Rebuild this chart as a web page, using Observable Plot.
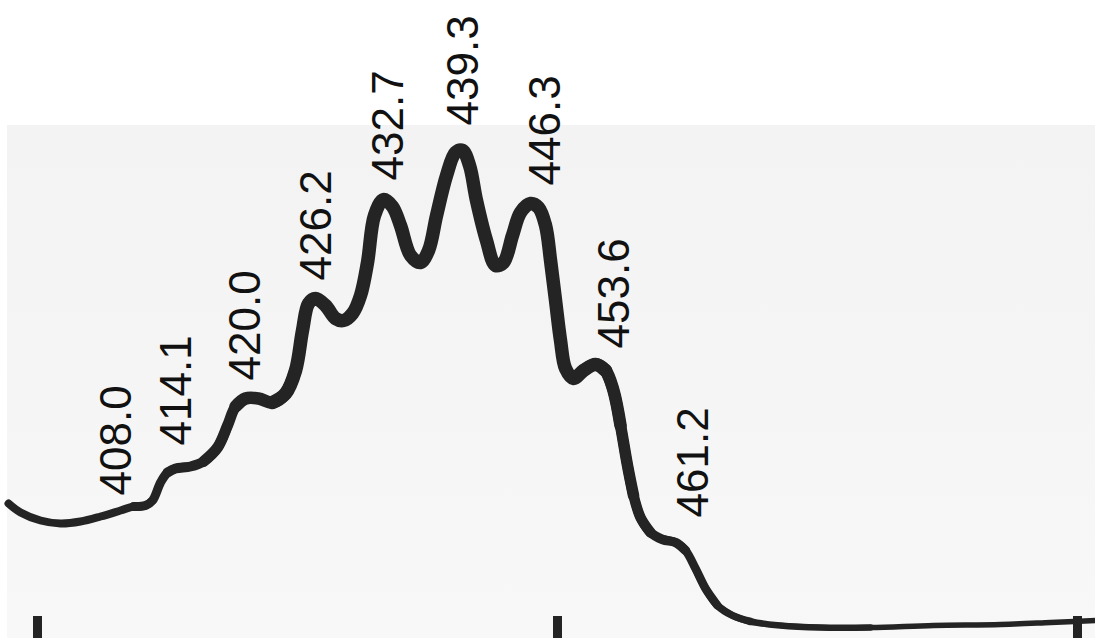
<!DOCTYPE html>
<html>
<head>
<meta charset="utf-8">
<script src="https://cdn.jsdelivr.net/npm/d3@7"></script>
<script src="https://cdn.jsdelivr.net/npm/@observablehq/plot@0.6"></script>
<style>
  html, body { margin: 0; padding: 0; background: #ffffff; }
  #wrap { position: relative; width: 1095px; height: 638px; overflow: hidden; background: #ffffff; }
  #paper { position: absolute; left: 7px; top: 125px; right: 0; bottom: 0;
           background: linear-gradient(to bottom, #f3f3f3 0%, #f5f5f5 50%, #f8f8f8 100%); }
  #chart { position: absolute; left: 0; top: 0; }
  #chart svg { background: transparent; display: block; }
  #chart path { filter: blur(0.6px); }
</style>
</head>
<body>
<div id="wrap"><div id="paper"></div><div id="chart"></div></div>
<script>
// Spectrum trace: wavelength (nm) and relative intensity (arbitrary units)
const wavelength = [
  397.21, 398.37, 400.29, 402.21, 404.13, 406.06, 407.98, 409.23, 410.38, 411.06,
  411.83, 412.50, 413.27, 414.71, 415.96, 417.31, 418.27, 419.04, 420.00, 421.25,
  422.60, 423.85, 424.81, 425.48, 426.06, 426.73, 427.69, 428.65, 429.42, 430.29,
  431.06, 431.73, 432.40, 433.27, 434.13, 434.90, 435.87, 436.83, 437.60, 438.37,
  439.33, 440.19, 440.87, 441.54, 442.21, 443.17, 444.04, 444.81, 445.67, 446.44,
  447.40, 448.17, 448.85, 449.33, 449.81, 450.29, 450.77, 451.54, 452.50, 453.65,
  454.62, 455.38, 456.06, 456.73, 457.31, 457.98, 458.94, 460.10, 461.35, 462.31,
  463.27, 464.23, 465.38, 466.83, 468.56, 471.44, 475.29, 480.10, 486.15, 492.60,
  497.40, 501.73
];
const intensity = [
  25.4, 23.6, 22.0, 21.4, 21.8, 22.8, 24.0, 24.8, 25.0, 26.0,
  29.6, 31.6, 32.4, 32.8, 33.8, 36.6, 41.0, 44.8, 46.4, 46.4,
  45.6, 47.4, 52.0, 60.0, 65.4, 66.4, 65.0, 62.4, 62.0, 63.4,
  67.0, 73.6, 83.0, 86.2, 84.8, 81.0, 75.0, 73.6, 76.0, 83.0,
  91.0, 95.6, 96.0, 93.0, 86.0, 78.0, 73.0, 73.6, 79.0, 83.6,
  85.4, 84.6, 81.0, 74.0, 66.0, 58.0, 52.4, 50.4, 52.0, 53.2,
  52.0, 48.0, 41.0, 33.0, 27.0, 22.6, 19.6, 18.2, 17.6, 16.0,
  12.4, 8.4, 5.0, 3.0, 1.8, 1.0, 0.6, 0.6, 1.0, 1.2,
  1.6, 2.0
];

// Peak annotations (text) and where they sit on the chart (nm, intensity)
const peakLabels = ["408.0", "414.1", "420.0", "426.2", "432.7", "439.3", "446.3", "453.6", "461.2"];
const labelWavelength = [407.60, 413.37, 420.00, 426.83, 433.75, 440.96, 448.85, 455.48, 463.08];
const labelIntensity = [27.0, 37.0, 50.0, 70.0, 90.0, 101.0, 89.0, 56.4, 22.6];

// Scale tick marks along the bottom edge (nm)
const tickWavelengths = [400, 450, 500];

const trace = wavelength.map((w, i) => ({w, v: intensity[i]}));
const labels = peakLabels.map((t, i) => ({t, w: labelWavelength[i], v: labelIntensity[i]}));

// The pen trace is thinner on the flanks and heavier across the peaks:
// draw it in overlapping stretches whose widths change gradually.
const breaks = [-Infinity, 410.38, 413.27, 417.31, 420.00, 423.85, 453.65, 455.38, 456.73, 457.98, 461.35, 464.23, 466.83, 475.29, Infinity];
const widths = [8, 9, 10, 11, 12.5, 13.5, 12.5, 11.5, 10.5, 9.5, 8.5, 7.5, 6.5, 5.5];
const ink = "#242424";

function stretch(lo, hi) {
  // include one neighbouring point on each side so the spline shape matches
  const idx = trace.map((d, i) => i).filter(i => trace[i].w >= lo && trace[i].w <= hi);
  const a = Math.max(0, idx[0] - 1), b = Math.min(trace.length - 1, idx[idx.length - 1] + 1);
  return {pts: trace.slice(a, b + 1), lo, hi};
}

const chart = Plot.plot({
  width: 1095,
  height: 638,
  marginTop: 0, marginRight: 0, marginBottom: 0, marginLeft: 0,
  x: {domain: [396.44, 501.73], axis: null},
  y: {domain: [-1.6, 126], axis: null},
  style: {background: "transparent", fontFamily: "'Liberation Sans', Arial, Helvetica, sans-serif"},
  marks: [
    Plot.ruleX(tickWavelengths, {x: d => d, y1: 2.8, y2: -1.6, stroke: ink, strokeWidth: 9}),
    ...widths.map((sw, k) => {
      const s = stretch(breaks[k], breaks[k + 1]);
      return Plot.line(s.pts, {
        x: "w", y: "v", curve: "catmull-rom", stroke: ink, strokeWidth: sw,
        strokeLinecap: "round", strokeLinejoin: "round"
      });
    }),
    Plot.text(labels, {
      x: "w", y: "v", text: "t", rotate: -90, textAnchor: "start",
      fontSize: 44, fill: "#111111"
    })
  ]
});
document.getElementById("chart").appendChild(chart);
</script>
</body>
</html>
